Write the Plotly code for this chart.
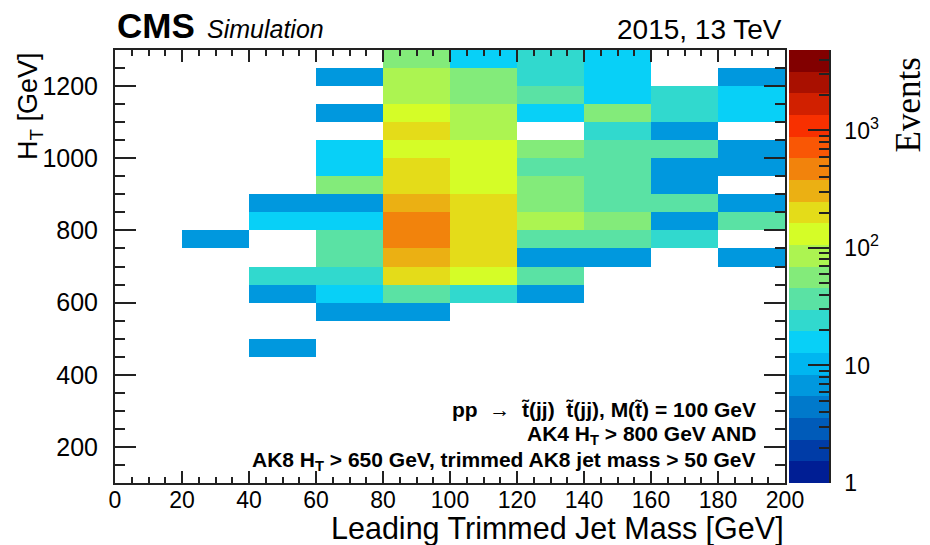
import numpy as np
import plotly.graph_objects as go

N = None

# ---------------- data ----------------
mass_edges = list(range(0, 201, 20))      # leading trimmed jet mass bins [GeV]
ht_edges = list(range(100, 1301, 50))     # H_T bins [GeV]
n_empty_low = 7                            # HT bins 100-450 have no entries

# Events per bin, HT bins 450-500, 500-550, ..., 1250-1300 (17 bins), one list per mass bin
mass_000_020 = [N, N, N, N, N, N, N, N, N, N, N, N, N, N, N, N, N]
mass_020_040 = [N, N, N, N, N, N, 7, N, N, N, N, N, N, N, N, N, N]
mass_040_060 = [7, N, N, 7, 24, N, N, 16, 7, N, N, N, N, N, N, N, N]
mass_060_080 = [N, N, 7, 16, 24, 37, 37, 16, 7, 56, 16, 16, N, 7, N, 7, N]
mass_080_100 = [N, N, 7, 37, 200, 307, 470, 470, 307, 200, 200, 131, 200, 131, 86, 86, 56]
mass_100_120 = [N, N, N, 24, 131, 200, 200, 200, 200, 131, 131, 131, 86, 86, 56, 56, 16]
mass_120_140 = [N, N, N, 7, 37, 7, 37, 86, 56, 56, 37, 56, N, 16, 37, 24, 24]
mass_140_160 = [N, N, N, N, N, 7, 37, 56, 37, 37, 37, 37, 24, 56, 16, 16, 16]
mass_160_180 = [N, N, N, N, N, N, 24, 7, 37, 7, 7, 37, 7, 24, 24, N, N]
mass_180_200 = [N, N, N, N, N, 7, N, 37, 7, N, 7, 7, N, 16, 16, 7, N]

z_min_events = 1.0
z_max_events = 4840.0
n_levels = 20

colorbar_ticks = [1, 10, 100, 1000]
colorbar_ticktext = ["1", "10", "10<sup>2</sup>", "10<sup>3</sup>"]

# ---------------- build histogram matrix ----------------
columns = [mass_000_020, mass_020_040, mass_040_060, mass_060_080, mass_080_100,
           mass_100_120, mass_120_140, mass_140_160, mass_160_180, mass_180_200]
n_ht = len(ht_edges) - 1
counts = np.full((n_ht, len(columns)), np.nan)
for ci, col in enumerate(columns):
    for ri, v in enumerate(col):
        if v is not None:
            counts[n_empty_low + ri, ci] = v
zlog = np.log10(counts)
zmin_log = np.log10(z_min_events)
zmax_log = np.log10(z_max_events)

# ---------------- ROOT / CMS style palette, 20 contour levels ----------------
stops = [0.00, 0.34, 0.61, 0.84, 1.00]
red = [0.00, 0.00, 0.87, 1.00, 0.51]
green = [0.00, 0.81, 1.00, 0.20, 0.00]
blue = [0.51, 1.00, 0.12, 0.00, 0.00]


def palette(t):
    r = np.interp(t, stops, red)
    g = np.interp(t, stops, green)
    b = np.interp(t, stops, blue)
    return "rgb(%d,%d,%d)" % (round(r * 255), round(g * 255), round(b * 255))


colorscale = []
for i in range(n_levels):
    c = palette(min(1.0, (i + 0.99) / n_levels))
    colorscale.append([i / n_levels, c])
    colorscale.append([(i + 1) / n_levels, c])

# ---------------- figure ----------------
W, H = 930, 545
L, R, T, B = 115, 101, 50, 62
pw = W - L - R
ph = H - T - B
main_right_px = 785
cb_left_px = 789


def px_x(p):
    return (p - L) / pw


def px_y(p):
    return (H - B - p) / ph


fig = go.Figure()
fig.add_trace(go.Heatmap(
    x=mass_edges, y=ht_edges, z=zlog,
    colorscale=colorscale, zmin=zmin_log, zmax=zmax_log,
    showscale=False, hoverongaps=False,
))

# palette axis drawn as a second heatmap of the contour levels
band_edges = list(np.linspace(zmin_log, zmax_log, n_levels + 1))
band_mid = [[(band_edges[i] + band_edges[i + 1]) / 2] for i in range(n_levels)]
fig.add_trace(go.Heatmap(
    x=[0, 1], y=band_edges, z=band_mid,
    colorscale=colorscale, zmin=zmin_log, zmax=zmax_log,
    showscale=False, xaxis="x2", yaxis="y2", hoverinfo="skip",
))

axis_col = "#222222"
font_main = "Liberation Sans, Arial, sans-serif"

minor_cb = []
for d in range(0, 4):
    for k in range(2, 10):
        v = np.log10(k * 10 ** d)
        if v <= zmax_log:
            minor_cb.append(v)

fig.update_layout(
    width=W, height=H,
    margin=dict(l=L, r=R, t=T, b=B, pad=0),
    paper_bgcolor="white", plot_bgcolor="white",
    font=dict(family=font_main, color="black"),
    xaxis=dict(
        domain=[0, px_x(main_right_px)], range=[0, 200],
        tick0=0, dtick=20, ticks="inside", ticklen=12, tickwidth=1.5, tickcolor=axis_col,
        minor=dict(dtick=5, ticks="inside", ticklen=6, tickwidth=1.5, tickcolor=axis_col),
        showline=True, linecolor=axis_col, linewidth=2, mirror="allticks",
        showgrid=False, zeroline=False,
        tickfont=dict(size=23, family=font_main), ticklabelstandoff=-5,
    ),
    yaxis=dict(
        range=[100, 1300], tick0=0, dtick=200,
        ticks="inside", ticklen=21, tickwidth=1.5, tickcolor=axis_col,
        minor=dict(dtick=50, ticks="inside", ticklen=10, tickwidth=1.5, tickcolor=axis_col),
        showline=True, linecolor=axis_col, linewidth=2, mirror="allticks",
        showgrid=False, zeroline=False,
        tickfont=dict(size=25, family=font_main), ticklabelstandoff=10,
    ),
    xaxis2=dict(domain=[px_x(cb_left_px), 1], range=[0, 1], anchor="y2",
                visible=False, fixedrange=True),
    yaxis2=dict(
        anchor="x2", side="right", range=[zmin_log, zmax_log],
        tickvals=[np.log10(v) for v in colorbar_ticks], ticktext=colorbar_ticktext,
        ticks="inside", ticklen=21, tickwidth=1.5, tickcolor=axis_col,
        minor=dict(tickvals=minor_cb, ticks="inside", ticklen=10, tickwidth=1.5, tickcolor=axis_col),
        showline=True, linecolor=axis_col, linewidth=1.5,
        showgrid=False, zeroline=False,
        tickfont=dict(size=23, family=font_main), ticklabelstandoff=9,
    ),
)

annotations = [
    dict(text="<b>CMS</b>", x=0, y=px_y(25), xanchor="left", yanchor="middle",
         font=dict(size=35, family=font_main)),
    dict(text="<i>Simulation</i>", x=px_x(205), y=px_y(29), xanchor="left", yanchor="middle",
         font=dict(size=25, family=font_main)),
    dict(text="2015, 13 TeV", x=px_x(784), y=px_y(30), xanchor="right", yanchor="middle",
         font=dict(size=28, family=font_main)),
    dict(text="Leading Trimmed Jet Mass [GeV]", x=px_x(786), y=px_y(528),
         xanchor="right", yanchor="middle", font=dict(size=30.5, family=font_main)),
    dict(text="H<sub>T</sub> [GeV]", x=px_x(30), y=px_y(50), xanchor="center", yanchor="top",
         textangle=-90, font=dict(size=27, family=font_main)),
    dict(text="Events", x=px_x(908), y=px_y(56), xanchor="center", yanchor="top",
         textangle=-90, font=dict(size=35, family="Liberation Serif, Times New Roman, serif")),
    dict(text="<b>pp  \u2192  t\u0303(jj)  t\u0303(jj), M(t\u0303) = 100 GeV</b>", x=px_x(758), y=px_y(409),
         xanchor="right", yanchor="middle", font=dict(size=21, family=font_main)),
    dict(text="<b>AK4 H<sub>T</sub> > 800 GeV AND</b>", x=px_x(758), y=px_y(435),
         xanchor="right", yanchor="middle", font=dict(size=21, family=font_main)),
    dict(text="<b>AK8 H<sub>T</sub> > 650 GeV, trimmed AK8 jet mass > 50 GeV</b>", x=px_x(758), y=px_y(461),
         xanchor="right", yanchor="middle", font=dict(size=21, family=font_main)),
]
for a in annotations:
    a.update(xref="paper", yref="paper", showarrow=False)
fig.update_layout(annotations=annotations)

fig.write_html("out.html")
